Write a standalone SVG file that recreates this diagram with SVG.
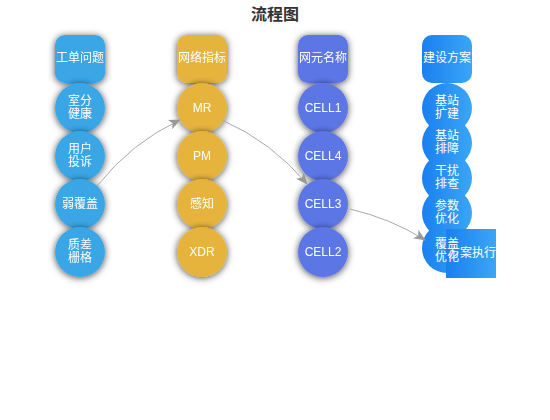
<svg xmlns="http://www.w3.org/2000/svg" width="550" height="420" viewBox="0 0 550 420">
<style>
text{font-family:"Liberation Sans","Noto Sans CJK SC",sans-serif;fill:#fff;font-size:12px;text-anchor:middle;dominant-baseline:central}
.title{fill:#333;font-size:16px;font-weight:bold}
.c1{fill:#3aa6e6}.c2{fill:#e6b43c}.c3{fill:#5b76e6}.c4{fill:url(#g4)}
.sh{filter:url(#sh)}
.edge{fill:none;stroke:#aaa;stroke-width:1;marker-end:url(#arr)}
</style>
<defs>
<filter id="sh" x="-40%" y="-40%" width="180%" height="180%"><feDropShadow dx="0" dy="1" stdDeviation="3.5" flood-color="#000" flood-opacity="0.7"/></filter>
<linearGradient id="g4" x1="0" y1="0" x2="1" y2="0"><stop offset="0" stop-color="#1a80f0"/><stop offset="1" stop-color="#3aa6f6"/></linearGradient>
<marker id="arr" viewBox="0 0 12 10" refX="11" refY="5" markerWidth="12" markerHeight="10" markerUnits="userSpaceOnUse" orient="auto"><path d="M0,0 L12,5 L0,10 L3,5 Z" fill="#999"/></marker>
</defs>
<rect width="550" height="420" fill="#fff"/>
<text class="title" x="275" y="14">流程图</text>
<g id="col1">
<g id="n-gdwt" class="sh"><rect class="c1" x="55" y="35" width="50" height="48" rx="10"/><text x="80" y="58">工单问题</text></g>
<g id="n-sfjk" class="sh"><circle class="c1" cx="80" cy="108" r="25"/><text x="80" y="101">室分</text><text x="80" y="114">健康</text></g>
<g id="n-yhts" class="sh"><circle class="c1" cx="80" cy="156" r="25"/><text x="80" y="149">用户</text><text x="80" y="162">投诉</text></g>
<g id="n-rfg" class="sh"><circle class="c1" cx="80" cy="204" r="25"/><text x="80" y="204">弱覆盖</text></g>
<g id="n-zcsg" class="sh"><circle class="c1" cx="80" cy="252" r="25"/><text x="80" y="245">质差</text><text x="80" y="258">栅格</text></g>
</g>
<g id="col2">
<g id="n-wlzb" class="sh"><rect class="c2" x="177" y="35" width="50" height="48" rx="10"/><text x="202" y="58">网络指标</text></g>
<g id="n-mr" class="sh"><circle class="c2" cx="202" cy="108" r="25"/><text x="202" y="108">MR</text></g>
<g id="n-pm" class="sh"><circle class="c2" cx="202" cy="156" r="25"/><text x="202" y="156">PM</text></g>
<g id="n-gz" class="sh"><circle class="c2" cx="202" cy="204" r="25"/><text x="202" y="204">感知</text></g>
<g id="n-xdr" class="sh"><circle class="c2" cx="202" cy="252" r="25"/><text x="202" y="252">XDR</text></g>
</g>
<g id="col3">
<g id="n-wymc" class="sh"><rect class="c3" x="298" y="35" width="50" height="48" rx="10"/><text x="323" y="58">网元名称</text></g>
<g id="n-cell1" class="sh"><circle class="c3" cx="323" cy="108" r="25"/><text x="323" y="108">CELL1</text></g>
<g id="n-cell4" class="sh"><circle class="c3" cx="323" cy="156" r="25"/><text x="323" y="156">CELL4</text></g>
<g id="n-cell3" class="sh"><circle class="c3" cx="323" cy="204" r="25"/><text x="323" y="204">CELL3</text></g>
<g id="n-cell2" class="sh"><circle class="c3" cx="323" cy="252" r="25"/><text x="323" y="252">CELL2</text></g>
</g>
<g id="col4">
<g id="n-jsfa"><rect class="c4" x="422" y="35" width="50" height="48" rx="10"/><text x="447" y="58">建设方案</text></g>
<g id="n-jzkj"><circle class="c4" cx="447" cy="108" r="25"/><text x="447" y="101">基站</text><text x="447" y="114">扩建</text></g>
<g id="n-jzpz"><circle class="c4" cx="447" cy="143" r="25"/><text x="447" y="136">基站</text><text x="447" y="149">排障</text></g>
<g id="n-grpc"><circle class="c4" cx="447" cy="178" r="25"/><text x="447" y="171">干扰</text><text x="447" y="184">排查</text></g>
<g id="n-cshy"><circle class="c4" cx="447" cy="213" r="25"/><text x="447" y="206">参数</text><text x="447" y="219">优化</text></g>
<g id="n-fgyh"><circle class="c4" cx="447" cy="248" r="25"/></g>
<g id="n-fazx"><rect class="c4" x="446" y="229" width="50" height="49"/><text x="472" y="253">方案执行</text></g>
<g id="n-fgyh-label"><text x="447" y="244">覆盖</text><text x="447" y="257">优化</text></g>
</g>
<g id="connectors">
<path class="edge" d="M97,186 Q132,142 180,120"/>
<path class="edge" d="M222,120 Q272,142 307,184"/>
<path class="edge" d="M350,209 Q392,219 425,240"/>
</g>
</svg>
